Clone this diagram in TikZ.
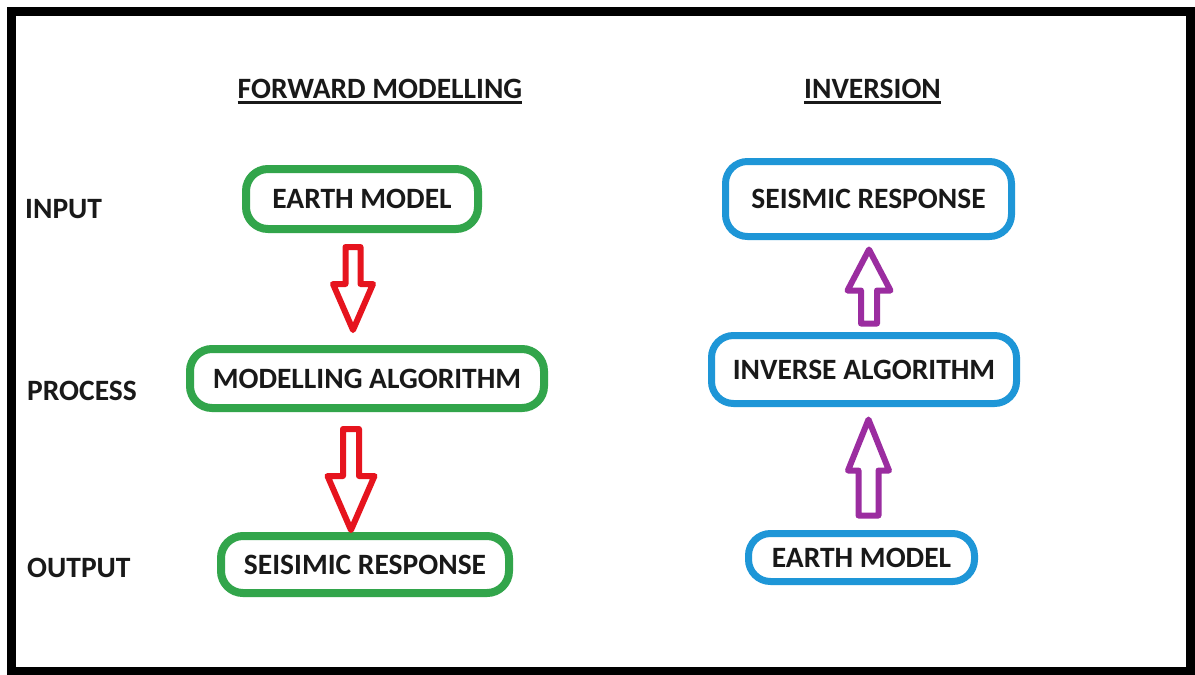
\documentclass[tikz,border=0pt]{standalone}
\usepackage{fontspec}
\setmainfont{Carlito}
\usetikzlibrary{calc}

\definecolor{boxgreen}{RGB}{50,165,75}
\definecolor{boxblue}{RGB}{30,150,215}
\definecolor{arrred}{RGB}{230,20,30}
\definecolor{arrpurple}{RGB}{155,45,160}
\definecolor{ink}{RGB}{25,25,25}

% hollow block arrow along a vertical line:
% #1 style, #2 tail point, #3 tip point, #4 half shaft, #5 half head, #6 head length
\newcommand\blockarrow[6]{%
  \draw[#1] let \p1=(#2), \p2=(#3), \n1={sign(\y2-\y1)} in
    (\x1-#4,\y1) -- (\x1-#4,\y2-\n1*#6) -- (\x1-#5,\y2-\n1*#6) -- (\x1,\y2)
    -- (\x1+#5,\y2-\n1*#6) -- (\x1+#4,\y2-\n1*#6) -- (\x1+#4,\y1) -- cycle;}

\tikzset{
  lbl/.style={font=\bfseries\fontsize{29.5}{34}\selectfont, text=ink, inner sep=0pt},
  stage/.style={lbl, anchor=base west},
  fwdbox/.style={draw=boxgreen, line width=8pt, rounded corners=22pt,
    lbl, text=ink},
  invbox/.style={draw=boxblue, line width=7pt, rounded corners=22pt,
    lbl, text=ink},
  fwdarrow/.style={draw=arrred, line width=6pt, line join=round},
  invarrow/.style={draw=arrpurple, line width=6pt, line join=round},
}

\begin{document}
\begin{tikzpicture}[x=1pt, y=-1pt]
\useasboundingbox (0,0) rectangle (1195,675);
\fill[white] (0,0) rectangle (1195,675);
\draw[line width=9pt] (11.5,11.5) rectangle (1190,671);

% column headings
\node[lbl, anchor=base] (hfwd) at (380,98) {FORWARD MODELLING};
\node[lbl, anchor=base] (hinv) at (872.5,98) {INVERSION};
\draw[ink, line width=2.5pt] ($(hfwd.base west)+(0,4.5)$) -- ($(hfwd.base east)+(0,4.5)$);
\draw[ink, line width=2.5pt] ($(hinv.base west)+(0,4.5)$) -- ($(hinv.base east)+(0,4.5)$);

% stage labels
\node[stage] (input) at (25,218) {INPUT};
\node[stage] (process) at (27,400) {PROCESS};
\node[stage] (output) at (27,577) {OUTPUT};

% forward modelling chain
\node[fwdbox, minimum width=232pt, minimum height=60pt] (em1) at (362,199) {EARTH MODEL};
\node[fwdbox, minimum width=354pt, minimum height=59pt] (ma) at (367,378.5) {MODELLING ALGORITHM};
\node[fwdbox, minimum width=288pt, minimum height=57pt] (sr1) at (365,564.5) {SEISIMIC RESPONSE};

% inversion chain
\node[invbox, minimum width=286pt, minimum height=75pt] (sr2) at (868.5,199) {SEISMIC RESPONSE};
\node[invbox, minimum width=305pt, minimum height=68pt] (ia) at (864,369.5) {INVERSE ALGORITHM};
\node[invbox, minimum width=226pt, minimum height=48pt] (em2) at (861.5,557.5) {EARTH MODEL};

% connectors
\coordinate (f1s) at ($(em1.south)+(-9,14)$);
\coordinate (f1t) at ($(ma.north)+(-9,-15)$);
\coordinate (f2s) at ($(ma.south)+(-16,17)$);
\coordinate (f2t) at ($(sr1.north)+(-14,-2)$);
\blockarrow{fwdarrow}{f1s}{f1t}{7.5pt}{20pt}{46pt}
\blockarrow{fwdarrow}{f2s}{f2t}{8pt}{23.5pt}{54pt}

\coordinate (i1s) at ($(ia.north)+(5,-8.5)$);
\coordinate (i1t) at ($(sr2.south)+(0,9.5)$);
\coordinate (i2s) at ($(em2.north)+(7,-14.5)$);
\coordinate (i2t) at ($(ia.south)+(4,12.5)$);
\blockarrow{invarrow}{i1s}{i1t}{8pt}{21.5pt}{41pt}
\blockarrow{invarrow}{i2s}{i2t}{10pt}{20.5pt}{51pt}
\end{tikzpicture}
\end{document}
